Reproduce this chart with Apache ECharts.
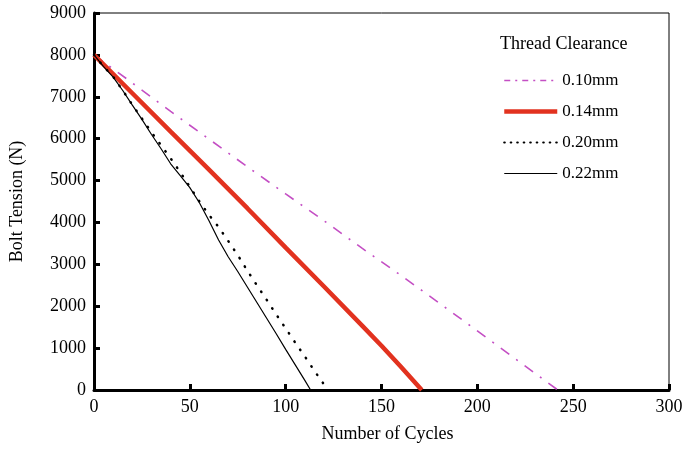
<!DOCTYPE html>
<html>
<head>
<meta charset="utf-8">
<script src="https://cdn.jsdelivr.net/npm/echarts@6/dist/echarts.min.js"></script>
<style>html,body{margin:0;padding:0;background:#fff}#c{width:686px;height:449px}</style>
</head>
<body>
<div id="c"></div>
<script>
const seriesNames = ['0.10mm', '0.14mm', '0.20mm', '0.22mm'];
const xTicks = [0, 50, 100, 150, 200, 250, 300];
const yTicks = [0, 1000, 2000, 3000, 4000, 5000, 6000, 7000, 8000, 9000];

const cycles010 = [0, 20, 40, 60, 80, 100, 120, 140, 160, 180, 200, 220, 242];
const tension010 = [8000, 7330, 6650, 5990, 5330, 4680, 4040, 3380, 2740, 2080, 1410, 740, 0];

const cycles014 = [0, 20, 40, 60, 80, 100, 120, 140, 150, 160, 171];
const tension014 = [8000, 7085, 6170, 5260, 4340, 3400, 2470, 1530, 1055, 560, 0];

const cycles020 = [0, 5, 10, 15, 20, 25, 30, 35, 40, 45, 50, 55, 60, 65, 70, 75, 80, 85, 90, 95, 100, 105, 110, 115, 122];
const tension020 = [8000, 7720, 7480, 7150, 6810, 6480, 6150, 5840, 5530, 5200, 4850, 4500, 4180, 3890, 3560, 3220, 2850, 2500, 2160, 1810, 1470, 1130, 800, 460, 0];

const cycles022 = [0, 5, 10, 15, 20, 25, 30, 35, 40, 45, 50, 55, 60, 65, 70, 75, 80, 85, 90, 95, 100, 105, 110, 113];
const tension022 = [8000, 7720, 7470, 7150, 6800, 6462, 6100, 5760, 5400, 5120, 4830, 4470, 4040, 3580, 3180, 2830, 2460, 2090, 1720, 1350, 970, 600, 230, 0];

const zip = (xs, ys) => xs.map((x, i) => [x, ys[i]]);
const FONT = '"Liberation Serif", "Times New Roman", serif';

const styles = [
  { color: '#c44fc4', width: 1.6, type: [10.5, 8.5, 2, 8.5] },
  { color: '#e2321f', width: 4.5, type: 'solid' },
  { color: '#000', width: 2.5, type: [0.5, 9.5], cap: 'round' },
  { color: '#000', width: 1.2, type: 'solid' }
];
const legendStyles = [
  { color: '#c44fc4', width: 1.6, type: [6, 5, 2, 5] },
  { color: '#e2321f', width: 4.5, type: 'solid' },
  { color: '#000', width: 2.2, type: [0.5, 6], cap: 'round' },
  { color: '#000', width: 1.2, type: 'solid' }
];

const chart = echarts.init(document.getElementById('c'));
chart.setOption({
  animation: false,
  backgroundColor: '#fff',
  title: {
    text: 'Thread Clearance',
    left: 495, top: 30,
    textStyle: { fontFamily: FONT, fontSize: 18, fontWeight: 'normal', color: '#000' }
  },
  legend: {
    orient: 'vertical',
    left: 497, top: 67,
    itemWidth: 53, itemHeight: 17, itemGap: 14,
    data: seriesNames.map((n, i) => ({ name: n, lineStyle: legendStyles[i], itemStyle: { opacity: 0 } })),
    itemStyle: { opacity: 0 },
    textStyle: { fontFamily: FONT, fontSize: 17, color: '#000' }
  },
  grid: {
    left: 92, right: 17, top: 13, bottom: 59,
    show: true, borderColor: '#000', borderWidth: 1, backgroundColor: 'transparent'
  },
  xAxis: {
    type: 'value', min: 0, max: 300, interval: 50,
    name: 'Number of Cycles', nameLocation: 'middle', nameGap: 35,
    nameTextStyle: { fontFamily: FONT, fontSize: 18, color: '#000', padding: [0, 0, 0, 12] },
    axisLine: { lineStyle: { color: '#000', width: 3 } },
    axisTick: { inside: true, length: 6, lineStyle: { color: '#000', width: 3 } },
    axisLabel: { fontFamily: FONT, fontSize: 18, color: '#000', margin: 8,
      formatter: v => xTicks.includes(v) ? String(v) : '' },
    splitLine: { show: false }
  },
  yAxis: {
    type: 'value', min: 0, max: 9000, interval: 1000,
    name: 'Bolt Tension (N)', nameLocation: 'middle', nameGap: 68,
    nameTextStyle: { fontFamily: FONT, fontSize: 18, color: '#000' },
    axisLine: { lineStyle: { color: '#000', width: 3 } },
    axisTick: { inside: true, length: 6, lineStyle: { color: '#000', width: 3 } },
    axisLabel: { fontFamily: FONT, fontSize: 18, color: '#000', margin: 8,
      formatter: v => yTicks.includes(v) ? String(v) : '' },
    splitLine: { show: false }
  },
  series: [
    { name: seriesNames[0], type: 'line', symbol: 'none', data: zip(cycles010, tension010),
      lineStyle: styles[0], itemStyle: { color: styles[0].color } },
    { name: seriesNames[1], type: 'line', symbol: 'none', data: zip(cycles014, tension014),
      lineStyle: styles[1], itemStyle: { color: styles[1].color } },
    { name: seriesNames[2], type: 'line', symbol: 'none', data: zip(cycles020, tension020),
      lineStyle: styles[2], itemStyle: { color: styles[2].color } },
    { name: seriesNames[3], type: 'line', symbol: 'none', data: zip(cycles022, tension022),
      lineStyle: styles[3], itemStyle: { color: styles[3].color } }
  ]
});
</script>
</body>
</html>
